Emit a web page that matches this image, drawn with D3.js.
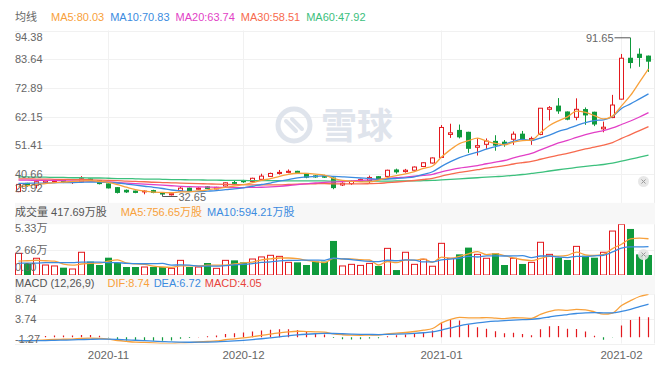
<!DOCTYPE html>
<html><head><meta charset="utf-8">
<script src="https://cdn.jsdelivr.net/npm/d3@7/dist/d3.min.js"></script>
<style>
body{margin:0;background:#fff}
svg{display:block}
text{font-family:"Liberation Sans",Arial,"Noto Sans CJK SC",sans-serif;font-size:11px}
</style>
</head><body>
<svg id="c" width="671" height="373"></svg>
<script>
// ---------- data ----------
const opens  = [34.1,37.2,36.6,37.6,37.9,38.3,37.5,37.8,38.8,38.2,37.0,35.6,34.6,34.3,34.0,34.5,33.6,32.9,34.4,35.4,35.0,35.9,35.1,36.2,37.5,38.1,37.9,38.7,39.8,40.9,41.3,41.7,40.9,40.0,39.9,39.2,36.6,37.1,38.0,38.3,39.7,39.8,42.2,41.6,42.1,43.5,44.8,46.9,55.5,57.0,56.3,50.7,51.8,52.9,52.6,53.7,55.6,53.4,55.5,64.9,66.1,63.9,61.9,64.8,63.8,57.6,61.8,68.7,84.0,85.5,84.8];
const highs  = [37.0,37.4,38.0,38.2,38.5,38.5,37.9,39.9,39.0,38.4,37.1,35.8,34.9,34.5,34.6,34.8,33.9,33.5,35.8,35.6,35.7,36.1,35.9,37.6,38.1,38.5,39.3,40.8,41.2,42.2,42.4,41.9,41.0,40.3,40.4,39.4,37.6,38.3,38.9,40.1,39.9,42.3,42.7,42.6,43.5,45.1,46.9,59.0,59.5,59.2,56.5,54.0,54.0,55.2,53.4,56.6,56.8,54.7,65.4,66.1,69.1,64.1,69.0,65.6,64.0,60.3,70.3,85.6,91.65,87.7,85.0];
const lows   = [33.9,35.9,35.3,37.3,37.6,37.3,37.0,37.6,38.0,36.8,35.3,33.4,33.6,33.5,33.1,33.5,32.9,32.65,34.2,34.2,34.8,35.1,35.0,36.0,36.8,37.4,37.7,38.5,39.6,40.5,41.0,40.9,39.1,39.3,39.2,35.0,36.2,36.6,37.7,37.0,38.6,39.6,40.8,41.2,42.0,43.3,44.6,46.7,54.2,54.0,48.6,47.6,50.1,49.4,50.9,51.6,53.2,51.6,55.2,60.7,63.2,60.8,60.8,59.1,58.6,56.3,61.6,68.5,80.2,80.8,78.9];
const closes = [36.8,36.4,37.8,38.1,38.3,37.6,37.8,38.9,38.3,37.1,35.5,33.8,34.0,33.8,34.3,33.8,33.2,33.3,35.4,34.5,35.4,35.3,35.7,37.4,37.2,37.8,39.1,39.9,40.9,41.3,41.7,41.1,39.5,39.6,39.5,35.6,37.2,37.9,38.6,39.4,38.8,42.1,41.5,42.1,43.3,44.9,46.7,58.1,56.1,54.6,50.3,51.3,53.0,51.5,51.9,55.6,53.9,54.0,65.3,65.5,64.3,61.2,64.9,62.8,59.4,58.2,66.5,84.0,82.4,84.3,82.9];
// volume in 万 (axis units)
const volumes = [2.28,1.22,1.76,1.05,0.95,0.77,0.63,2.39,1.41,1.05,1.82,1.26,0.84,0.84,0.84,0.84,0.84,0.70,1.54,0.84,0.84,1.26,0.70,1.54,1.54,1.33,1.68,1.90,2.07,1.96,1.33,1.33,1.05,1.41,1.41,3.58,0.95,1.12,1.01,1.22,0.95,2.80,0.52,2.39,1.12,1.65,0.92,3.33,1.76,2.17,2.88,2.17,1.76,2.28,1.05,1.76,1.16,1.33,3.44,2.17,1.82,1.58,3.01,2.03,1.82,2.39,4.62,5.33,4.84,2.17,2.10];

// moving-average values before a full window is available
const ma5Head  = [36.0,36.3,36.8,37.1];
const ma10Head = [37.2,37.2,37.3,37.3,37.4,37.5,37.5,37.6,37.7];
const ma20Head = [38.4,38.4,38.3,38.3,38.3,38.2,38.1,38.1,38.0,37.9,37.7,37.5,37.3,37.1,36.9,36.7,36.5,36.3,36.1];
const ma30Head = [38.9,38.9,38.8,38.8,38.7,38.7,38.6,38.6,38.5,38.4,38.3,38.2,38.0,37.9,37.8,37.6,37.5,37.4,37.3,37.2,37.1,37.0,36.9,36.8,36.7,36.7,36.6,36.6,36.6];
const ma60Head = [39.6,39.6,39.5,39.5,39.4,39.4,39.3,39.3,39.2,39.2,39.1,39.0,39.0,38.9,38.8,38.8,38.7,38.6,38.6,38.5,38.5,38.4,38.4,38.3,38.3,38.3,38.2,38.2,38.2,38.2,38.1,38.1,38.1,38.1,38.1,38.0,38.0,38.0,38.0,38.0,38.0,38.0,38.1,38.1,38.1,38.2,38.3,38.5,38.7,38.9,39.1,39.3,39.5,39.7,39.9,40.2,40.5,40.9,41.3];
const volMa5Head  = [1.45,1.5,1.55,1.5];
const volMa10Head = [1.25,1.25,1.25,1.3,1.3,1.3,1.3,1.35,1.35];
// EMA12, EMA26, DEA state before the first bar
const macdSeed = [37.6,38.3,-0.7];

const monthTickIndex  = [10,25,47,67];
const monthTickLabels = ["2020-11","2020-12","2021-01","2021-02"];
const priceTicks = [94.38,83.64,72.89,62.15,51.41,40.66,29.92];
const volTicks = [5.33,2.66,0];
const volTickLabels = ["5.33万","2.66万","0.00"];
const macdTicks = [8.74,3.74,-1.27];

const priceLegend = ["均线","MA5:80.03","MA10:70.83","MA20:63.74","MA30:58.51","MA60:47.92"];
const volLegend   = ["成交量 417.69万股","MA5:756.65万股","MA10:594.21万股"];
const macdLegend  = ["MACD (12,26,9)","DIF:8.74","DEA:6.72","MACD:4.05"];
const maxLabel = "91.65", minLabel = "32.65";

// ---------- styles ----------
const C = {up:"#e3191e", down:"#0f9a3c", ma5:"#f8a13b", ma10:"#3b8be0", ma20:"#e23fc6",
  ma30:"#f76a4e", ma60:"#3cc07d", grid:"#f1f1f1", text:"#666", band:"#f7f7f7", macd:"#e8433b"};

const svg = d3.select("#c");
const LEFT = 15, RIGHT = 655;
const PP = [30.5, 202.8], VP = [224.3, 275], MP = [294.3, 343.5];
const idx = d3.range(closes.length);
const x = d3.scaleBand().domain(idx).range([14, 653]);
const cx = i => x(i) + x.bandwidth() / 2;
const y  = d3.scaleLinear().domain([d3.min(priceTicks), d3.max(priceTicks)]).range([PP[1], PP[0]]);
const yv = d3.scaleLinear().domain([0, d3.max(volTicks)]).range([VP[1], VP[0]]);
const ym = d3.scaleLinear().domain([d3.min(macdTicks), d3.max(macdTicks)]).range([MP[1], MP[0]]);

function movingAvg(vals, n, head) {
  return vals.map((v, i) => i < n - 1 ? head[i] : d3.mean(vals.slice(i - n + 1, i + 1)));
}
const ma5 = movingAvg(closes, 5, ma5Head), ma10 = movingAvg(closes, 10, ma10Head),
      ma20 = movingAvg(closes, 20, ma20Head), ma30 = movingAvg(closes, 30, ma30Head),
      ma60 = movingAvg(closes, 60, ma60Head);
const vma5 = movingAvg(volumes, 5, volMa5Head), vma10 = movingAvg(volumes, 10, volMa10Head);
let e12 = macdSeed[0], e26 = macdSeed[1], dea = macdSeed[2];
const dif = [], deaS = [], hist = [];
closes.forEach(c => {
  e12 = e12 * 11 / 13 + c * 2 / 13;
  e26 = e26 * 25 / 27 + c * 2 / 27;
  const d = e12 - e26;
  dea = dea * 0.8 + d * 0.2;
  dif.push(d); deaS.push(dea); hist.push(2 * (d - dea));
});

// ---------- frame ----------
const defs = svg.append("defs");
[["cp", PP], ["cv", VP], ["cm", MP]].forEach(([id, p]) =>
  defs.append("clipPath").attr("id", id).append("rect").attr("x", LEFT).attr("y", p[0]).attr("width", RIGHT - LEFT).attr("height", p[1] - p[0]));

const grid = svg.append("g").attr("stroke", C.grid).attr("stroke-width", 1);
priceTicks.forEach(t => grid.append("line").attr("x1", LEFT).attr("x2", RIGHT).attr("y1", Math.round(y(t)) + 0.5).attr("y2", Math.round(y(t)) + 0.5));
[VP[0] + (VP[1] - VP[0]) / 2].forEach(v => grid.append("line").attr("x1", LEFT).attr("x2", RIGHT).attr("y1", Math.round(v) + 0.5).attr("y2", Math.round(v) + 0.5));
macdTicks.forEach(t => grid.append("line").attr("x1", LEFT).attr("x2", RIGHT).attr("y1", Math.round(ym(t)) + 0.5).attr("y2", Math.round(ym(t)) + 0.5));
monthTickIndex.forEach(i => grid.append("line").attr("x1", cx(i)).attr("x2", cx(i)).attr("y1", PP[0]).attr("y2", MP[1]));
grid.append("line").attr("x1", RIGHT - 0.5).attr("x2", RIGHT - 0.5).attr("y1", PP[0]).attr("y2", MP[1]).attr("stroke", "#ececec");

// header bands
svg.append("rect").attr("x", LEFT).attr("y", PP[1]).attr("width", RIGHT - LEFT).attr("height", VP[0] - PP[1]).attr("fill", C.band);
svg.append("rect").attr("x", LEFT).attr("y", VP[1] + 0.5).attr("width", RIGHT - LEFT).attr("height", MP[0] - VP[1] - 0.5).attr("fill", C.band);

// watermark
const wm = svg.append("g").attr("fill", "none").attr("stroke", "#dfe4ec");
wm.append("circle").attr("cx", 294).attr("cy", 125).attr("r", 16).attr("stroke-width", 5);
wm.append("path").attr("d", "M286,121 L296,131 M292,119 L302,129").attr("stroke-width", 4).attr("stroke-linecap", "round");
svg.append("text").attr("x", 321).attr("y", 139).attr("fill", "#dfe4ec").style("font-size", "36px").style("font-weight", "bold").text("雪球");

// ---------- candles ----------
const cg = svg.append("g").attr("clip-path", "url(#cp)");
idx.forEach(i => {
  const up = closes[i] >= opens[i], col = up ? C.up : C.down;
  const top = y(Math.max(opens[i], closes[i])), bot = y(Math.min(opens[i], closes[i]));
  const c = cx(i);
  if (up) {
    cg.append("line").attr("x1", c).attr("x2", c).attr("y1", y(highs[i])).attr("y2", top).attr("stroke", col);
    cg.append("line").attr("x1", c).attr("x2", c).attr("y1", bot).attr("y2", y(lows[i])).attr("stroke", col);
    cg.append("rect").attr("x", c - 2).attr("y", top).attr("width", 4).attr("height", Math.max(bot - top, 0.8))
      .attr("fill", "#fff").attr("stroke", col).attr("stroke-width", 1);
  } else {
    cg.append("line").attr("x1", c).attr("x2", c).attr("y1", y(highs[i])).attr("y2", y(lows[i])).attr("stroke", col);
    cg.append("rect").attr("x", c - 2.5).attr("y", top - 0.5).attr("width", 5).attr("height", Math.max(bot - top + 1, 1.5)).attr("fill", col);
  }
});
const line = (ys, sc) => d3.line().x((d, i) => cx(i)).y(d => sc(d)).curve(d3.curveMonotoneX)(ys);
[[ma60, C.ma60], [ma30, C.ma30], [ma20, C.ma20], [ma10, C.ma10], [ma5, C.ma5]].forEach(([s, col]) =>
  cg.append("path").attr("d", line(s, y)).attr("fill", "none").attr("stroke", col).attr("stroke-width", 1.3));

// max / min annotations
const iMax = d3.maxIndex(highs), iMin = d3.minIndex(lows);
svg.append("line").attr("x1", cx(iMax) - 16).attr("x2", cx(iMax)).attr("y1", y(highs[iMax])).attr("y2", y(highs[iMax])).attr("stroke", "#555");
svg.append("text").attr("x", cx(iMax) - 17).attr("y", y(highs[iMax])).attr("dominant-baseline", "central").attr("text-anchor", "end").attr("fill", C.text).text(maxLabel);
svg.append("line").attr("x1", cx(iMin) - 9).attr("x2", cx(iMin) + 6).attr("y1", y(lows[iMin]) + 1).attr("y2", y(lows[iMin]) + 1).attr("stroke", "#555");
svg.append("line").attr("x1", cx(iMin) - 9).attr("x2", cx(iMin) - 9).attr("y1", y(lows[iMin]) - 2).attr("y2", y(lows[iMin]) + 1).attr("stroke", "#555");
svg.append("text").attr("x", cx(iMin) + 7).attr("y", y(lows[iMin]) + 1).attr("dominant-baseline", "central").attr("fill", C.text).text(minLabel);

// ---------- volume ----------
const vg = svg.append("g").attr("clip-path", "url(#cv)");
idx.forEach(i => {
  const up = closes[i] >= opens[i], col = up ? C.up : C.down, c = cx(i);
  const t = yv(volumes[i]);
  if (up) vg.append("rect").attr("x", c - 3).attr("y", t).attr("width", 6).attr("height", VP[1] - t).attr("fill", "#fff").attr("stroke", col);
  else vg.append("rect").attr("x", c - 3.5).attr("y", t).attr("width", 7).attr("height", VP[1] - t).attr("fill", col);
});
[[vma5, C.ma5], [vma10, C.ma10]].forEach(([s, col]) =>
  vg.append("path").attr("d", line(s, yv)).attr("fill", "none").attr("stroke", col).attr("stroke-width", 1.3));

// ---------- MACD ----------
const mg = svg.append("g").attr("clip-path", "url(#cm)");
idx.forEach(i => mg.append("line").attr("x1", cx(i)).attr("x2", cx(i)).attr("y1", ym(0)).attr("y2", ym(hist[i]))
  .attr("stroke", hist[i] >= 0 ? C.up : C.down).attr("stroke-width", 1.2));
[[dif, C.ma5], [deaS, C.ma10]].forEach(([s, col]) =>
  mg.append("path").attr("d", line(s, ym)).attr("fill", "none").attr("stroke", col).attr("stroke-width", 1.3));

// reset buttons
[[643.5, 181.5], [643.5, 254.5]].forEach(([bx, by]) => {
  svg.append("circle").attr("cx", bx).attr("cy", by).attr("r", 5.5).attr("fill", "#e4e4e4").attr("opacity", 0.9);
  svg.append("path").attr("d", `M${bx-2},${by-2}L${bx+2},${by+2}M${bx+2},${by-2}L${bx-2},${by+2}`).attr("stroke", "#999").attr("stroke-width", 1);
});

// ---------- axis labels ----------
function yLabels(ticks, labels, sc, top, bot, padT, padB) {
  ticks.forEach((t, k) => {
    const yy = Math.max(top + padT, Math.min(bot - padB, sc(t)));
    svg.append("text").attr("x", LEFT).attr("y", yy).attr("dominant-baseline", "central").attr("fill", C.text).text(labels[k]);
  });
}
yLabels(priceTicks, priceTicks.map(d3.format(".2f")), y, PP[0], PP[1], 6, 15);
yLabels(volTicks, volTickLabels, yv, VP[0], VP[1], 4, 8);
yLabels(macdTicks, macdTicks.map(d3.format(".2f")).map(s => s.replace("−", "-")), ym, MP[0], MP[1], 5, 5);

monthTickIndex.forEach((i, k) => svg.append("text").attr("x", cx(i)).attr("y", 358.5).attr("text-anchor", "middle")
  .attr("fill", C.text).style("font-size", "11.5px").text(monthTickLabels[k]));

// ---------- legends ----------
function flow(items, colors, yb, firstGap, gap) {
  let xx = LEFT;
  items.forEach((t, k) => {
    const el = svg.append("text").attr("x", xx).attr("y", yb).attr("fill", colors[k]).text(t);
    xx += el.node().getComputedTextLength() + (k === 0 ? firstGap : gap);
  });
}
flow(priceLegend, [C.text, C.ma5, C.ma10, C.ma20, C.ma30, C.ma60], 20.5, 14, 6);
flow(volLegend, ["#555", C.ma5, C.ma10], 216, 14, 5);
flow(macdLegend, ["#555", C.ma5, C.ma10, C.macd], 286.5, 13, 4);
</script>
</body></html>
